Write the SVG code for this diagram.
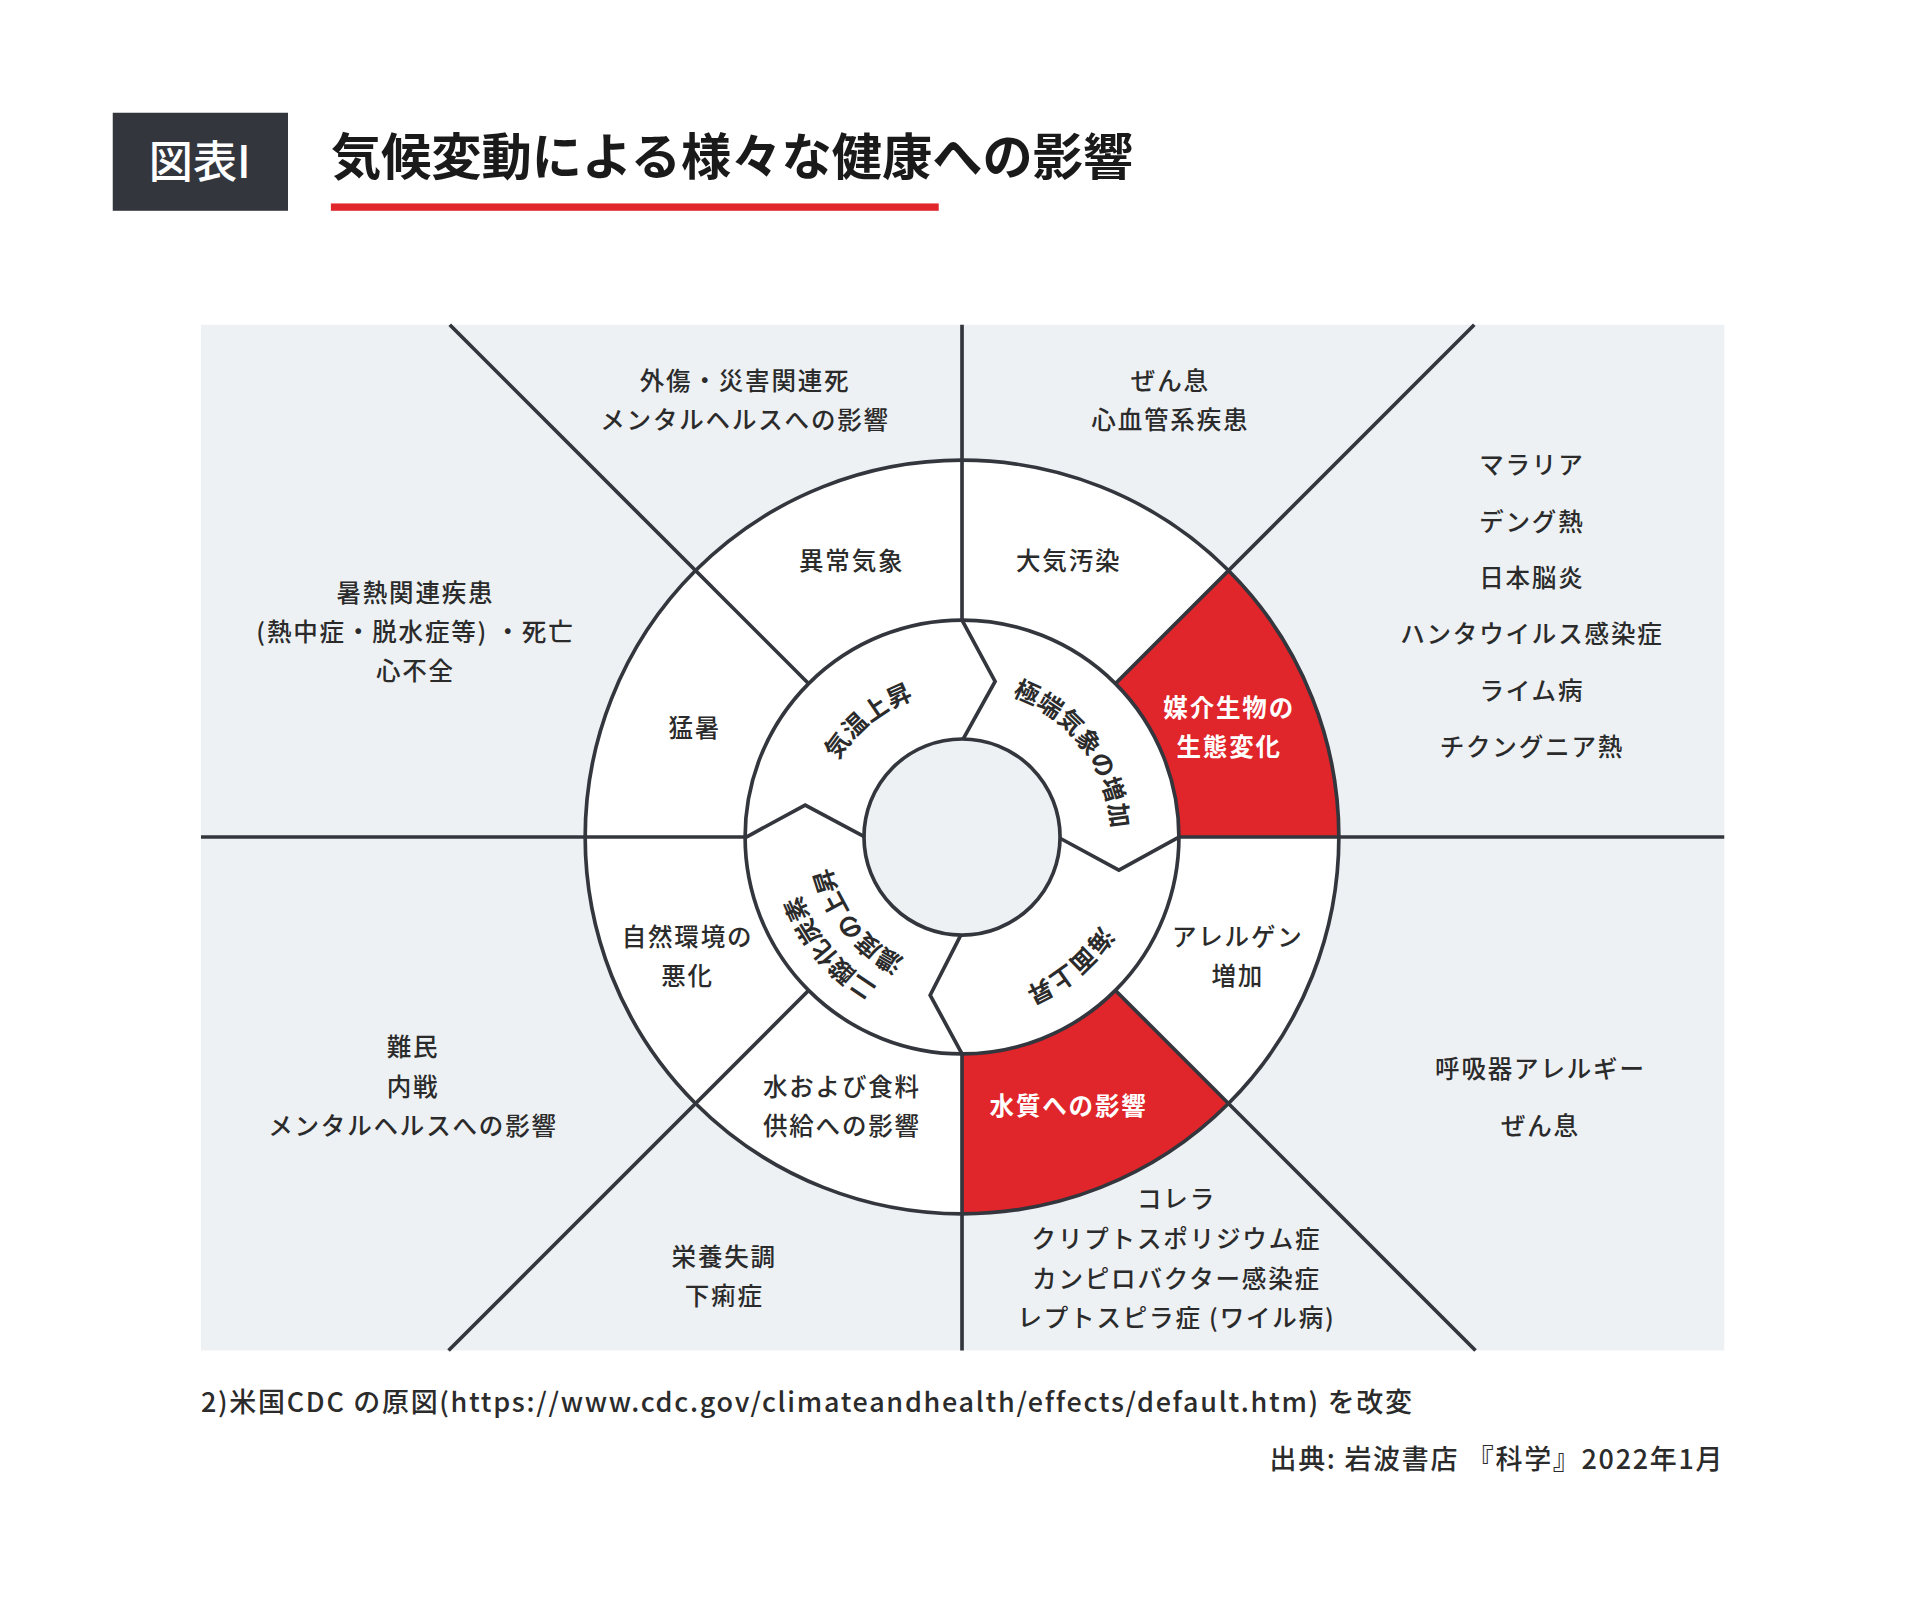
<svg xmlns="http://www.w3.org/2000/svg" width="1920" height="1615" viewBox="0 0 1920 1615">
<style>
.t{font-family:"Noto Sans CJK JP","Noto Sans",sans-serif;font-size:20px;font-weight:500;fill:#2b2b2b;text-anchor:middle;letter-spacing:1.5px}
.w{fill:#fff;font-weight:700}
.b{font-weight:700;letter-spacing:0.5px}
.r{font-family:"Noto Sans CJK JP","Noto Sans",sans-serif;font-size:22px;font-weight:500;fill:#2b2b2b;letter-spacing:1.4px}
.ln{stroke:#33363d;stroke-width:3;fill:none}
.fw{fill:#fff}
.fg{fill:#edf1f4}
</style>
<defs>
<path id="c119" d="M904,683 A119,119 0 1 1 666,683 A119,119 0 1 1 904,683"/>
<path id="c122" d="M907,683 A122,122 0 1 1 663,683 A122,122 0 1 1 907,683"/>
<path id="c134" d="M919,683 A134,134 0 1 1 651,683 A134,134 0 1 1 919,683"/>
<path id="c140" d="M925,683 A140,140 0 1 1 645,683 A140,140 0 1 1 925,683"/>
<path id="c110" d="M895,683 A110,110 0 1 1 675,683 A110,110 0 1 1 895,683"/>
</defs>
<rect width="1920" height="1615" fill="#fff"/>
<g transform="scale(1.2255)">
<g id="title">
<rect x="92" y="92" width="143" height="80" fill="#33363d"/>
<text x="163" y="145" style="font-family:'Noto Sans CJK JP',sans-serif;font-size:36px;fill:#fff;text-anchor:middle;font-weight:500">図表I</text>
<text x="270" y="143" style="font-family:'Noto Sans CJK JP',sans-serif;font-size:41px;fill:#1a1a1a;font-weight:700">気候変動による様々な健康への影響</text>
<rect x="270" y="166" width="496" height="6" fill="#e0252b"/>
</g>
<rect x="164" y="265" width="1243" height="837" fill="#edf1f4"/>
<circle cx="785" cy="683" r="307.5" fill="#fff"/>
<g id="red-sectors" fill="#e0252b">
<path d="M1002.4,465.6 A307.5,307.5 0 0 1 1092.5,683 L962,683 A177,177 0 0 0 910.2,557.8 Z"/>
<path d="M1002.4,900.4 A307.5,307.5 0 0 1 785,990.5 L785,860 A177,177 0 0 0 910.2,808.2 Z"/>
</g>
<g id="connectors">
<line class="ln" x1="785" y1="265" x2="785" y2="1102"/>
<line class="ln" x1="164" y1="683" x2="1407" y2="683"/>
<line class="ln" x1="367" y1="265" x2="1204" y2="1102"/>
<line class="ln" x1="1203" y1="265" x2="366" y2="1102"/>
<circle class="ln fw" cx="785" cy="683" r="177"/>
<circle class="ln fg" cx="785" cy="683" r="80"/>
<polyline class="ln" points="785,506 812,556 786,603"/>
<polyline class="ln" points="609,683 657,657 706,683"/>
<polyline class="ln" points="785,860 759,812 784,763"/>
<polyline class="ln" points="962,683 913,710 865,684"/>
<circle class="ln" cx="785" cy="683" r="307.5"/>
</g>
<g id="outer-labels">
<text class="t" x="608" y="318">外傷・災害関連死</text>
<text class="t" x="608" y="350">メンタルヘルスへの影響</text>
<text class="t" x="955" y="318">ぜん息</text>
<text class="t" x="955" y="350">心血管系疾患</text>
<text class="t" x="1250" y="387">マラリア</text>
<text class="t" x="1250" y="433">デング熱</text>
<text class="t" x="1250" y="479">日本脳炎</text>
<text class="t" x="1250" y="525">ハンタウイルス感染症</text>
<text class="t" x="1250" y="571">ライム病</text>
<text class="t" x="1250" y="617">チクングニア熱</text>
<text class="t" x="339" y="491">暑熱関連疾患</text>
<text class="t" x="339" y="523">(熱中症・脱水症等) ・死亡</text>
<text class="t" x="339" y="555">心不全</text>
<text class="t" x="337" y="862">難民</text>
<text class="t" x="337" y="894">内戦</text>
<text class="t" x="337" y="926">メンタルヘルスへの影響</text>
<text class="t" x="1257" y="880">呼吸器アレルギー</text>
<text class="t" x="1257" y="926">ぜん息</text>
<text class="t" x="591" y="1033">栄養失調</text>
<text class="t" x="591" y="1065">下痢症</text>
<text class="t" x="960" y="986">コレラ</text>
<text class="t" x="960" y="1018">クリプトスポリジウム症</text>
<text class="t" x="960" y="1051">カンピロバクター感染症</text>
<text class="t" x="960" y="1083">レプトスピラ症 (ワイル病)</text>
</g>
<g id="ring-labels">
<text class="t" x="695" y="465">異常気象</text>
<text class="t" x="872" y="465">大気汚染</text>
<text class="t w" x="1003" y="585">媒介生物の</text>
<text class="t w" x="1003" y="617">生態変化</text>
<text class="t" x="567" y="601">猛暑</text>
<text class="t" x="561" y="772">自然環境の</text>
<text class="t" x="561" y="804">悪化</text>
<text class="t" x="1010" y="772">アレルゲン</text>
<text class="t" x="1010" y="804">増加</text>
<text class="t" x="687" y="894">水および食料</text>
<text class="t" x="687" y="926">供給への影響</text>
<text class="t w" x="872" y="910">水質への影響</text>
</g>
<g id="inner-labels">
<text class="t b"><textPath href="#c119" startOffset="480">気温上昇</textPath></text>
<text class="t b"><textPath href="#c122" startOffset="688">極端気象の増加</textPath></text>
<text class="t b"><textPath href="#c134" startOffset="117">海面上昇</textPath></text>
<text class="t b" style="letter-spacing:0"><textPath href="#c140" startOffset="342">二酸化炭素</textPath></text>
<text class="t b" style="letter-spacing:0"><textPath href="#c110" startOffset="271">濃度の上昇</textPath></text>
</g>
<g id="footer">
<text class="r" x="164" y="1152">2)米国CDC の原図(https://www.cdc.gov/climateandhealth/effects/default.htm) を改変</text>
<text class="r" x="1407" y="1199" style="text-anchor:end">出典: 岩波書店 『科学』2022年1月</text>
</g>
</g>
</svg>
